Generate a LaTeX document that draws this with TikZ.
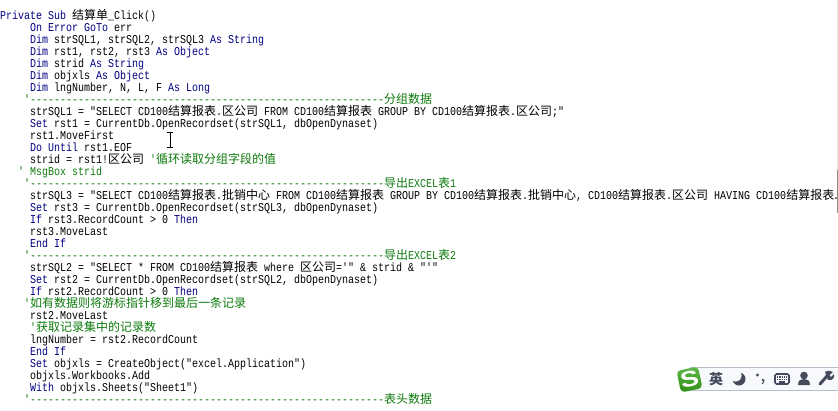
\documentclass[tikz,border=0pt]{standalone}
\usepackage{fontspec}
\usepackage{xcolor}
\setmainfont{Liberation Sans}
\setmonofont[FakeStretch=0.8333]{Liberation Mono}
\newfontfamily\cjk{Noto Sans CJK SC}
\definecolor{vbnavy}{rgb}{0,0,0.5}
\definecolor{vbgreen}{rgb}{0.05,0.48,0.05}
\definecolor{imebar}{rgb}{0.97,0.975,0.99}
\definecolor{imeline}{rgb}{0.72,0.75,0.80}
\definecolor{imeicon}{rgb}{0.27,0.29,0.36}
\definecolor{imegreen}{rgb}{0.22,0.66,0.11}
\newcommand{\zh}[1]{{\cjk\fontsize{12}{12}\selectfont #1}}
\newcommand{\kw}[1]{\textcolor{vbnavy}{#1}}
\newcommand{\dashrow}{-----------------------------------------------------------}
\begin{document}
\begin{tikzpicture}[x=1pt,y=-1pt]
	\tikzstyle{code}=[anchor=base west,inner sep=0pt,text=black,font=\ttfamily\fontsize{12}{12}\selectfont]
	\tikzstyle{cmt}=[code,text=vbgreen]
	\tikzstyle{icon}=[imeicon]
	\useasboundingbox (0,0) rectangle (838,410);
	\node (L1)[code] at (0,19) {\kw{Private Sub} \zh{结算单}\_Click()};
	\node (L2)[code] at (30,31) {\kw{On Error GoTo} err};
	\node (L3)[code] at (30,43) {\kw{Dim} strSQL1, strSQL2, strSQL3 \kw{As String}};
	\node (L4)[code] at (30,55) {\kw{Dim} rst1, rst2, rst3 \kw{As Object}};
	\node (L5)[code] at (30,67) {\kw{Dim} strid \kw{As String}};
	\node (L6)[code] at (30,79) {\kw{Dim} objxls \kw{As Object}};
	\node (L7)[code] at (30,91) {\kw{Dim} lngNumber, N, L, F \kw{As Long}};
	\node (L8)[cmt] at (24,103) {'\dashrow\zh{分组数据}};
	\node (L9)[code] at (30,115) {strSQL1 = "SELECT CD100\zh{结算报表}.\zh{区公司} FROM CD100\zh{结算报表} GROUP BY CD100\zh{结算报表}.\zh{区公司};"};
	\node (L10)[code] at (30,127) {\kw{Set} rst1 = CurrentDb.OpenRecordset(strSQL1, dbOpenDynaset)};
	\node (L11)[code] at (30,139) {rst1.MoveFirst};
	\node (L12)[code] at (30,151) {\kw{Do Until} rst1.EOF};
	\node (L13)[code] at (30,163) {strid = rst1!\zh{区公司} \textcolor{vbgreen}{'\zh{循环读取分组字段的值}}};
	\node (L14)[cmt] at (18,175) {' MsgBox strid};
	\node (L15)[cmt] at (24,187) {'\dashrow\zh{导出}EXCEL\zh{表}1};
	\node (L16)[code] at (30,199) {strSQL3 = "SELECT CD100\zh{结算报表}.\zh{批销中心} FROM CD100\zh{结算报表} GROUP BY CD100\zh{结算报表}.\zh{批销中心}, CD100\zh{结算报表}.\zh{区公司} HAVING CD100\zh{结算报表}\makebox[3.5pt][c]{.}};
	\node (L17)[code] at (30,211) {\kw{Set} rst3 = CurrentDb.OpenRecordset(strSQL3, dbOpenDynaset)};
	\node (L18)[code] at (30,223) {\kw{If} rst3.RecordCount > 0 \kw{Then}};
	\node (L19)[code] at (30,235) {rst3.MoveLast};
	\node (L20)[code] at (30,247) {\kw{End If}};
	\node (L21)[cmt] at (24,259) {'\dashrow\zh{导出}EXCEL\zh{表}2};
	\node (L22)[code] at (30,271) {strSQL2 = "SELECT * FROM CD100\zh{结算报表} where \zh{区公司}='" \& strid \& "'"};
	\node (L23)[code] at (30,283) {\kw{Set} rst2 = CurrentDb.OpenRecordset(strSQL2, dbOpenDynaset)};
	\node (L24)[code] at (30,295) {\kw{If} rst2.RecordCount > 0 \kw{Then}};
	\node (L25)[cmt] at (24,307) {'\zh{如有数据则将游标指针移到最后一条记录}};
	\node (L26)[code] at (30,319) {rst2.MoveLast};
	\node (L27)[cmt] at (30,331) {'\zh{获取记录集中的记录数}};
	\node (L28)[code] at (30,343) {lngNumber = rst2.RecordCount};
	\node (L29)[code] at (30,355) {\kw{End If}};
	\node (L30)[code] at (30,367) {\kw{Set} objxls = CreateObject("excel.Application")};
	\node (L31)[code] at (30,379) {objxls.Workbooks.Add};
	\node (L32)[code] at (30,391) {\kw{With} objxls.Sheets("Sheet1")};
	\node (L33)[cmt] at (24,403) {'\dashrow\zh{表头数据}};
	% mouse cursor
	\draw[black,line width=0.7pt] (167,132) -- (173,132) (170,132) -- (170,147) (167,147) -- (173,147);
	% window edge
	\fill[black!10] (837,0) rectangle (838,170);
	\fill[black!45] (837,170) rectangle (838,213);
	% input method bar
	\fill[imebar] (690,367.5) rectangle (838,390.5);
	\draw[imeline,line width=0.9pt] (690,367.5) -- (838,367.5) (690,390.5) -- (838,390.5);
	\node (IMElogo)[rectangle,rounded corners=4pt,rotate=12,top color=imegreen!80!white,bottom color=imegreen!85!black,text=white,minimum size=22pt,inner sep=0pt,font=\bfseries\fontsize{22}{22}\selectfont] at (689.5,379.5) {\scalebox{1.25}[1]{S}};
	\node (IMEeng)[text=imeicon,inner sep=0pt,font=\cjk\bfseries\fontsize{14}{14}\selectfont] at (716,379) {英};
	% moon
	\fill[icon] (739,379) circle (6.5);
	\fill[imebar] (735.5,375.5) circle (6);
	% punctuation
	\fill[icon] (757.5,375) circle (1.6);
	\fill[icon] (763,380) circle (1.3);
	\draw[icon,line width=1pt] (764,380) .. controls (764,382) and (763,383) .. (762,384);
	% keyboard
	\draw[icon,line width=1.6pt,rounded corners=1.5pt,fill=imebar] (775,374) rectangle (789,384);
	\draw[icon,line width=1.2pt,dash pattern=on 1.4pt off 0.9pt] (777,377) -- (787,377) (777,379.5) -- (787,379.5);
	\draw[icon,line width=1.2pt] (779,382) -- (785,382);
	% person
	\fill[icon] (804,375.5) circle (3.8);
	\fill[icon] (798,385) .. controls (798,380) and (801,379) .. (804,379) .. controls (807,379) and (810,380) .. (810,385) -- cycle;
	% wrench
	\draw[icon,line width=3pt,line cap=round] (820,384) -- (827,376);
	\fill[icon] (825,372) .. controls (828,370) and (831,371) .. (833,372) -- (829.5,375) -- (831,377) -- (834,374) .. controls (835,377) and (833,381) .. (828,380) -- cycle;
\end{tikzpicture}
\end{document}
